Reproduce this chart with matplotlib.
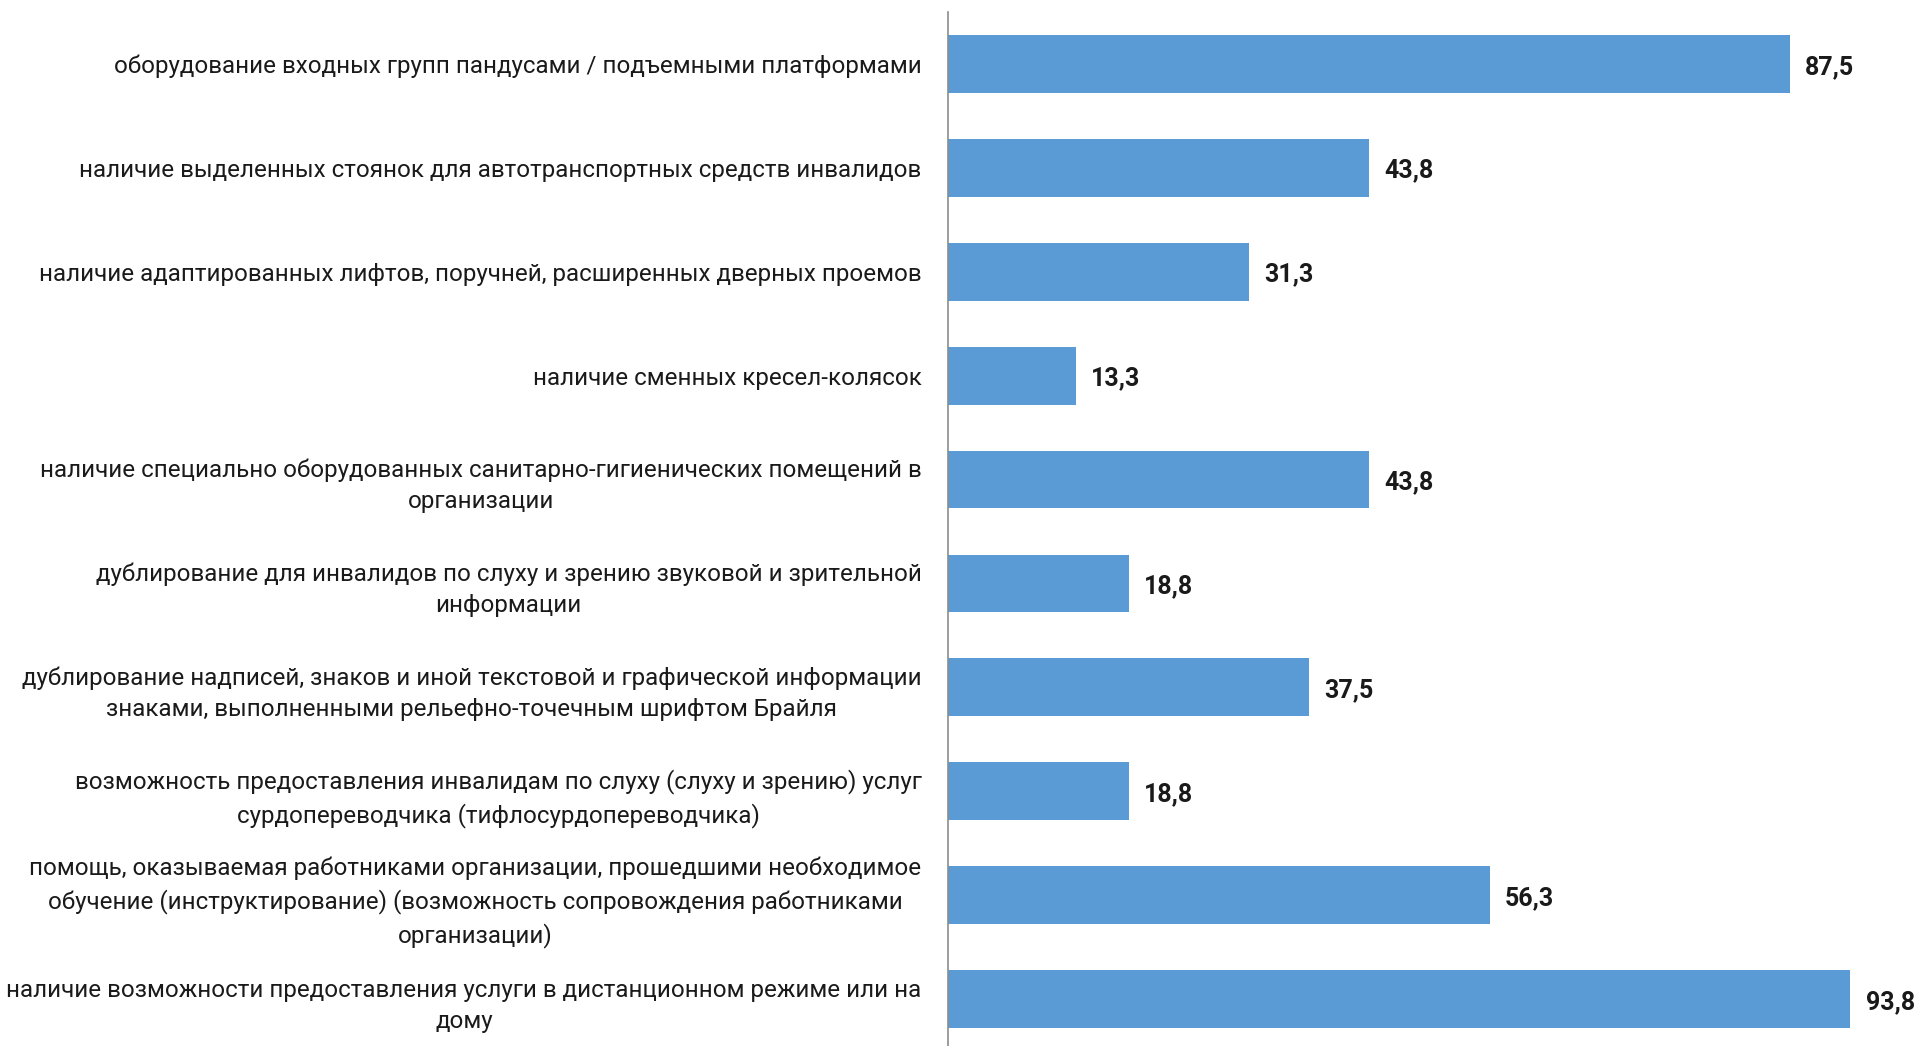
import matplotlib
matplotlib.use('Agg')
import matplotlib.pyplot as plt

plt.rcParams['font.family'] = ['Roboto', 'DejaVu Sans']

categories = [
    'оборудование входных групп пандусами / подъемными платформами',
    'наличие выделенных стоянок для автотранспортных средств инвалидов',
    'наличие адаптированных лифтов, поручней, расширенных дверных проемов',
    'наличие сменных кресел-колясок',
    'наличие специально оборудованных санитарно-гигиенических помещений в\nорганизации',
    'дублирование для инвалидов по слуху и зрению звуковой и зрительной\nинформации',
    'дублирование надписей, знаков и иной текстовой и графической информации\nзнаками, выполненными рельефно-точечным шрифтом Брайля',
    'возможность предоставления инвалидам по слуху (слуху и зрению) услуг\nсурдопереводчика (тифлосурдопереводчика)',
    'помощь, оказываемая работниками организации, прошедшими необходимое\nобучение (инструктирование) (возможность сопровождения работниками\nорганизации)',
    'наличие возможности предоставления услуги в дистанционном режиме или на\nдому',
]
values = [87.5, 43.8, 31.3, 13.3, 43.8, 18.8, 37.5, 18.8, 56.3, 93.8]

W, H = 1919, 1046
fig = plt.figure(figsize=(W / 100, H / 100), dpi=100)
ax = fig.add_axes([948 / W, -5 / H, 962 / W, 1039 / H])

ypos = list(range(len(categories)))
bars = ax.barh(ypos, values, height=0.556, color='#5B9BD5')

ax.set_xlim(0, 100)
ax.set_ylim(len(categories) - 0.5, -0.5)

ax.set_yticks(ypos)
ax.set_yticklabels(categories, fontsize=17.4, color='#1a1a1a',
                   multialignment='center', linespacing=1.45)
ax.tick_params(axis='y', length=0, pad=19)
ax.set_xticks([])

for s in ['top', 'right', 'bottom']:
    ax.spines[s].set_visible(False)
ax.spines['left'].set_color('#8c8c8c')
ax.spines['left'].set_linewidth(1.2)

labels = [f'{v:.1f}'.replace('.', ',') for v in values]
for y, v, lab in zip(ypos, values, labels):
    ax.annotate(lab, (v, y), xytext=(11, -2), textcoords='offset points',
                va='center', ha='left', fontsize=18, fontweight='bold',
                color='#1a1a1a', annotation_clip=False)

fig.savefig('out.png', dpi=100)
